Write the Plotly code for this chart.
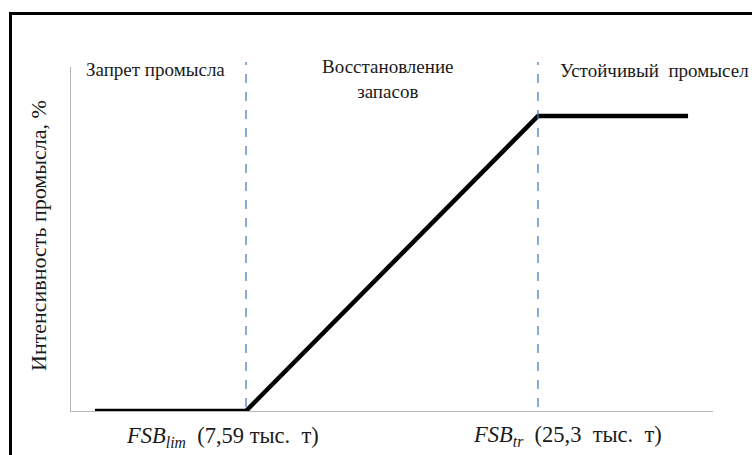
import plotly.graph_objects as go

# Data (schematic harvest control rule), x in thousand tonnes, y in % of max
fsb_lim = 7.59
fsb_tr = 25.3
line_x = [-1.57, fsb_lim, fsb_tr, 34.4]
line_y = [0, 0, 100, 100]
zone_labels = ["Запрет промысла", "Восстановление<br>запасов", "Устойчивый  промысел"]
x_labels = ["<i>FSB<sub>lim</sub></i>  (7,59 тыс.  т)", "<i>FSB<sub>tr</sub></i>  (25,3  тыс.  т)"]
y_title = "Интенсивность промысла, %"

W, H = 752, 455
L, R, T, B = 71, 39, 67, 44
PW = W - L - R
PH = H - T - B
FONT = "Liberation Serif"
TXT = "#1a1a1a"

def px(x):
    return (x - L) / PW

def py(y):
    return (H - B - y) / PH

fig = go.Figure()
fig.add_trace(go.Scatter(
    x=line_x, y=line_y, mode="lines",
    line=dict(color="black", width=4.5),
    hoverinfo="skip", showlegend=False,
))

shapes = []
for xv in [fsb_lim, fsb_tr]:
    shapes.append(dict(type="line", xref="x", yref="paper", x0=xv, x1=xv,
                       y0=py(407), y1=py(62),
                       line=dict(color="#4a7ec2", width=1.3, dash="dash")))
shapes.append(dict(type="rect", xref="paper", yref="paper",
                   x0=px(10.5), x1=px(800), y0=py(500), y1=py(13.5),
                   line=dict(color="black", width=3), fillcolor="rgba(0,0,0,0)"))

annotations = [
    dict(text=zone_labels[0], xref="paper", yref="paper", x=px(84), y=py(69),
         xanchor="left", yanchor="middle", showarrow=False,
         font=dict(family=FONT, size=19, color=TXT)),
    dict(text=zone_labels[1], xref="paper", yref="paper", x=px(388), y=py(79),
         xanchor="center", yanchor="middle", showarrow=False, align="center",
         font=dict(family=FONT, size=19, color=TXT)),
    dict(text=zone_labels[2], xref="paper", yref="paper", x=px(558), y=py(70),
         xanchor="left", yanchor="middle", showarrow=False,
         font=dict(family=FONT, size=19, color=TXT)),
    dict(text=x_labels[0], xref="x", yref="paper", x=fsb_lim, xshift=-24,
         y=py(437), xanchor="center", yanchor="middle", showarrow=False,
         font=dict(family=FONT, size=22.5, color=TXT)),
    dict(text=x_labels[1], xref="x", yref="paper", x=fsb_tr, xshift=29,
         y=py(436), xanchor="center", yanchor="middle", showarrow=False,
         font=dict(family=FONT, size=22.5, color=TXT)),
    dict(text=y_title, xref="paper", yref="paper", x=px(38), y=py(236),
         xanchor="center", yanchor="middle", showarrow=False, textangle=-90,
         font=dict(family=FONT, size=22, color=TXT)),
]

fig.update_layout(
    width=W, height=H,
    margin=dict(l=L, r=R, t=T, b=B),
    paper_bgcolor="white", plot_bgcolor="white",
    font=dict(family=FONT),
    shapes=shapes, annotations=annotations,
    showlegend=False,
)
fig.update_xaxes(range=[-3.024, 35.914], showline=True, linecolor="#b8b8b8", linewidth=1.2,
                 showgrid=False, zeroline=False, showticklabels=False, ticks="")
fig.update_yaxes(range=[0, 116.6], showline=True, linecolor="#b8b8b8", linewidth=1.2,
                 showgrid=False, zeroline=False, showticklabels=False, ticks="")

fig.write_html("out.html", config={"displayModeBar": False},
               post_script="document.body.style.margin='0';document.body.style.overflow='hidden';")
